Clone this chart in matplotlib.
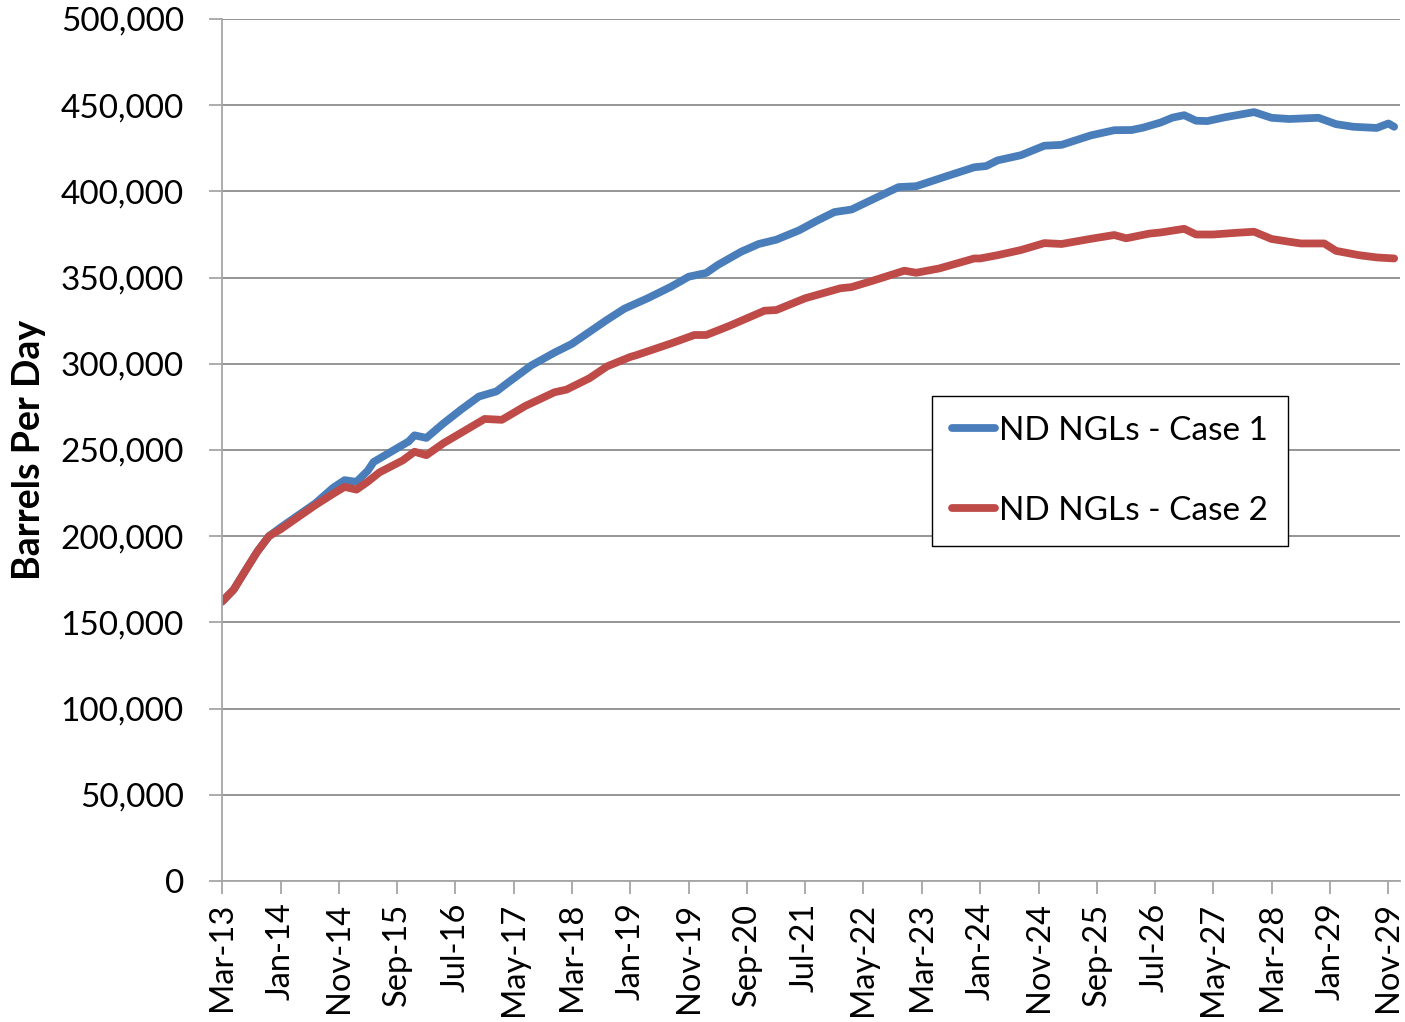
import matplotlib
matplotlib.use("Agg")
import matplotlib.pyplot as plt
import matplotlib.dates as mdates
import pandas as pd

plt.rcParams['font.family'] = ['Lato', 'DejaVu Sans']

# ND NGL production, Case 1
case1_dates = [
    "2013-03", "2013-05", "2013-07", "2013-09", "2013-11", "2014-01", "2014-04", "2014-07",
    "2014-10", "2014-12", "2015-02", "2015-04", "2015-05", "2015-08", "2015-11", "2015-12",
    "2016-02", "2016-05", "2016-08", "2016-11", "2017-02", "2017-04", "2017-08", "2017-12",
    "2018-03", "2018-06", "2018-09", "2018-12", "2019-04", "2019-08", "2019-11", "2020-02",
    "2020-04", "2020-08", "2020-11", "2021-02", "2021-06", "2021-09", "2021-12", "2022-03",
    "2022-07", "2022-11", "2023-02", "2023-07", "2023-12", "2024-02", "2024-04", "2024-08",
    "2024-12", "2025-03", "2025-08", "2025-12", "2026-03", "2026-05", "2026-08", "2026-10",
    "2026-12", "2027-02", "2027-04", "2027-07", "2027-12", "2028-03", "2028-06", "2028-11",
    "2029-02", "2029-05", "2029-09", "2029-11", "2029-12",
]
case1_bpd = [
    162000, 169000, 180000, 191000, 200000, 205000, 212000, 219000,
    228000, 232500, 231500, 238000, 243000, 249000, 255000, 258500,
    257000, 265500, 273500, 281000, 284000, 289000, 299000, 306500,
    311500, 318500, 325500, 332000, 338000, 344700, 350500, 352700,
    357300, 365000, 369500, 372000, 377500, 383000, 388000, 389500,
    396000, 402500, 403000, 408500, 414000, 414700, 418000, 421000,
    426500, 427000, 432500, 435500, 435600, 437000, 440000, 442800,
    444200, 441000, 440800, 443000, 446000, 442700, 442000, 442700,
    439000, 437500, 436800, 439400, 437500,
]

# ND NGL production, Case 2
case2_dates = [
    "2013-03", "2013-05", "2013-07", "2013-09", "2013-11", "2014-01", "2014-04", "2014-07",
    "2014-10", "2014-12", "2015-02", "2015-04", "2015-06", "2015-10", "2015-12", "2016-02",
    "2016-05", "2016-08", "2016-12", "2017-03", "2017-07", "2017-12", "2018-02", "2018-06",
    "2018-09", "2019-01", "2019-02", "2019-08", "2019-12", "2020-02", "2020-06", "2020-12",
    "2021-02", "2021-07", "2022-01", "2022-03", "2022-07", "2022-12", "2023-02", "2023-06",
    "2023-12", "2024-01", "2024-04", "2024-08", "2024-12", "2025-03", "2025-08", "2025-12",
    "2026-02", "2026-06", "2026-08", "2026-12", "2027-02", "2027-05", "2027-09", "2027-12",
    "2028-03", "2028-06", "2028-08", "2028-12", "2029-02", "2029-06", "2029-09", "2029-12",
]
case2_bpd = [
    162000, 169000, 180000, 191000, 200000, 204000, 211000, 218000,
    224500, 228600, 227000, 231600, 237000, 244000, 249000, 247000,
    254000, 260000, 268000, 267500, 275500, 283500, 285000, 291600,
    298500, 304000, 305000, 311800, 316700, 316700, 322000, 330800,
    331200, 338000, 343800, 344500, 348600, 354000, 352800, 355300,
    361100, 361100, 363000, 366000, 370000, 369500, 372500, 374700,
    372800, 375500, 376200, 378300, 375000, 375000, 376000, 376600,
    372400, 370800, 369800, 369800, 365500, 363000, 361700, 361100,
]

series_names = ["ND NGLs - Case 1", "ND NGLs - Case 2"]
series_colors = ["#4A7EBB", "#BE4B48"]

y_ticks = list(range(0, 500001, 50000))
x_start, x_end = "2013-03-01", "2030-01-01"

fig = plt.figure(figsize=(14.05, 10.22), dpi=100)
ax = fig.add_axes([0.158, 0.138, 0.8385, 0.8434])

for dates, vals, name, color in [
    (case1_dates, case1_bpd, series_names[0], series_colors[0]),
    (case2_dates, case2_bpd, series_names[1], series_colors[1]),
]:
    ax.plot(pd.to_datetime(dates), vals, color=color, lw=5.6, label=name,
            solid_capstyle="round", solid_joinstyle="round")

ax.set_ylim(0, 500000)
ax.set_yticks(y_ticks)
ax.yaxis.set_major_formatter(matplotlib.ticker.FuncFormatter(lambda v, p: f"{int(v):,}"))
ax.set_xlim(pd.Timestamp(x_start), pd.Timestamp(x_end))

x_ticks = pd.date_range(x_start, "2029-11-01", freq="10MS")
ax.set_xticks(x_ticks)
ax.xaxis.set_major_formatter(mdates.DateFormatter("%b-%y"))
plt.setp(ax.get_xticklabels(), rotation=90)

ax.grid(axis="y", color="#8c8c8c", lw=1.3)
ax.set_axisbelow(True)
for s in ["top", "right"]:
    ax.spines[s].set_visible(False)
for s in ["left", "bottom"]:
    ax.spines[s].set_color("#a6a6a6")
    ax.spines[s].set_linewidth(1.3)
ax.tick_params(axis="both", colors="#a6a6a6", labelcolor="black", length=9.5, width=1.3)
ax.tick_params(axis="y", labelsize=24, pad=18)
ax.tick_params(axis="x", labelsize=23.5, pad=6)

ax.set_ylabel("Barrels Per Day", fontsize=27, fontweight="bold")
ax.yaxis.set_label_coords(-0.149, 0.5)

leg = ax.legend(loc="center", bbox_to_anchor=(0.790, 0.539), bbox_transform=fig.transFigure,
                fontsize=24, frameon=True, fancybox=False, edgecolor="black",
                framealpha=1, labelspacing=1.5, handlelength=1.3, handletextpad=0.12,
                borderpad=0.6, borderaxespad=0)
leg.get_frame().set_linewidth(1.0)

fig.savefig("out.png", dpi=100)
